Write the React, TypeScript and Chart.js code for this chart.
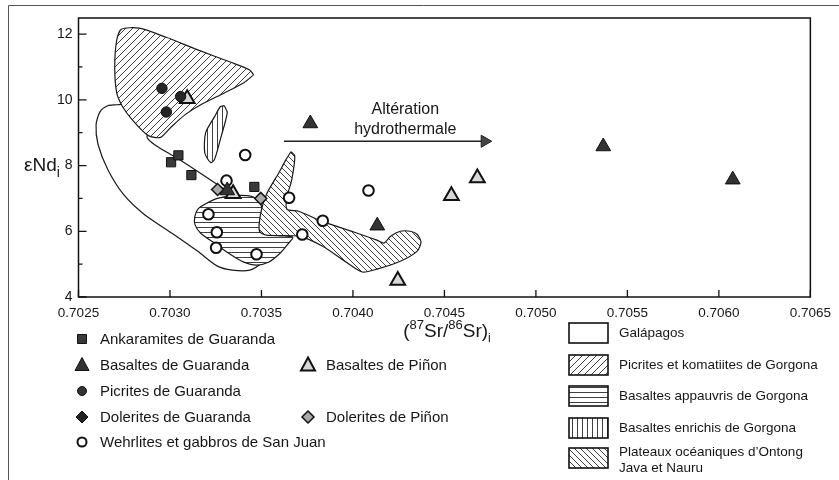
import React, { useEffect, useRef } from 'react';
import { Chart, registerables } from 'chart.js';
Chart.register(...registerables);

const FONT = '"Liberation Sans", Arial, Helvetica, sans-serif';
const INK = '#161616';

// ---- axes ----
const xMin = 0.7025;
const xMax = 0.7065;
const yMin = 4;
const yMax = 12.49;
const xTickValues = [0.7025, 0.703, 0.7035, 0.704, 0.7045, 0.705, 0.7055, 0.706, 0.7065];
const yTickValues = [4, 6, 8, 10, 12];
const yMinorTickValues = [5, 7, 9, 11];

// ---- point series: [87Sr/86Sr, eNd] ----
const ankaramitesGuaranda = [[0.703006, 8.1], [0.703046, 8.31], [0.703117, 7.71], [0.703461, 7.35]];
const basaltesGuaranda = [[0.703313, 7.24], [0.703767, 9.28], [0.704133, 6.17], [0.705368, 8.58], [0.706076, 7.57]];
const picritesGuaranda = [[0.702956, 10.35], [0.703058, 10.1], [0.70298, 9.63]];
const doleritesGuaranda: number[][] = [];
const wehrlitesSanJuan = [
  [0.703411, 8.32], [0.703309, 7.54], [0.70321, 6.52], [0.703256, 5.97], [0.703252, 5.5],
  [0.703473, 5.3], [0.703651, 7.02], [0.703723, 5.9], [0.703835, 6.32], [0.704085, 7.24],
];
const basaltesPinon = [[0.703094, 10.03], [0.703345, 7.14], [0.704245, 4.5], [0.704538, 7.08], [0.70468, 7.62]];
const doleritesPinon = [[0.70326, 7.27], [0.703496, 7.0]];

// ---- field outlines ----
const galapagosField = [
  [0.702709, 9.85], [0.70266, 9.82], [0.702618, 9.64], [0.702596, 9.24], [0.702607, 8.64],
  [0.70266, 7.88], [0.702746, 7.12], [0.702858, 6.52], [0.703019, 5.91], [0.703152, 5.39],
  [0.703259, 4.94], [0.70334, 4.82], [0.703436, 4.82], [0.703516, 5.09], [0.70358, 5.45],
  [0.703527, 6.52], [0.703393, 7.06], [0.703324, 7.18], [0.703259, 7.42], [0.703152, 7.82],
  [0.703045, 8.21], [0.702922, 8.61], [0.702874, 8.88], [0.702912, 9.24], [0.702751, 9.85],
];
const picritesGorgonaField = [
  [0.703457, 10.76], [0.703404, 10.52], [0.703297, 10.21], [0.703168, 9.85], [0.703083, 9.55],
  [0.703008, 9.18], [0.702955, 8.88], [0.702922, 8.85], [0.702874, 8.94], [0.702794, 9.39],
  [0.702741, 9.79], [0.702709, 10.21], [0.702698, 11.0], [0.702709, 11.82], [0.702735, 12.15],
  [0.702832, 12.18], [0.702976, 11.91], [0.703152, 11.52], [0.703329, 11.15], [0.703436, 10.91],
];
const basaltesAppauvrisField = [
  [0.703489, 6.91], [0.703505, 6.67], [0.703495, 6.06], [0.70358, 5.88], [0.703671, 5.82],
  [0.703644, 5.61], [0.703596, 5.3], [0.703538, 5.06], [0.703473, 4.97], [0.703404, 5.06],
  [0.703329, 5.3], [0.703243, 5.64], [0.703168, 5.94], [0.703136, 6.21], [0.703136, 6.45],
  [0.703152, 6.67], [0.70319, 6.82], [0.703259, 7.0], [0.703366, 7.09], [0.703447, 7.06],
];
const basaltesEnrichisField = [
  [0.703297, 9.82], [0.703313, 9.61], [0.703275, 8.79], [0.703243, 8.18], [0.703222, 8.09],
  [0.70319, 8.39], [0.703195, 9.0], [0.703243, 9.48], [0.703275, 9.79],
];
const ontongJavaField = [
  [0.703661, 8.42], [0.703682, 8.3], [0.703666, 7.58], [0.703639, 7.03], [0.703639, 6.67],
  [0.703703, 6.61], [0.703832, 6.3], [0.704008, 5.97], [0.704131, 5.73], [0.704169, 5.64],
  [0.704206, 5.85], [0.704259, 6.0], [0.704313, 6.0], [0.70435, 5.91], [0.704372, 5.67],
  [0.70435, 5.39], [0.704259, 5.09], [0.704131, 4.85], [0.704051, 4.76], [0.703955, 5.09],
  [0.703832, 5.55], [0.703703, 5.85], [0.703527, 5.88], [0.703489, 6.0], [0.703495, 6.52],
  [0.703527, 7.12], [0.703596, 7.79], [0.703634, 8.18],
];

// ---- annotation ----
const arrowLine = [[0.703623, 8.74], [0.70472, 8.74]];
const arrowTextLines = ['Altération', 'hydrothermale'];
const arrowTextAnchor = [0.704286, 9.76];

// ---- legends ----
const pointLegendLeft = ['Ankaramites de Guaranda', 'Basaltes de Guaranda', 'Picrites de Guaranda', 'Dolerites de Guaranda', 'Wehrlites et gabbros de San Juan'];
const pointLegendLeftKinds = ['ank', 'triB', 'dot', 'diaB', 'ring'];
const pointLegendMid = ['Basaltes de Piñon', 'Dolerites de Piñon'];
const pointLegendMidKinds = ['triW', 'diaG'];
const fieldLegend = ['Galápagos', 'Picrites et komatiites de Gorgona', 'Basaltes appauvris de Gorgona', 'Basaltes enrichis de Gorgona', 'Plateaux océaniques d’Ontong|Java et Nauru'];
const fieldLegendKinds = ['none', 'fwd', 'h', 'v', 'back'];

const toXY = (arr: number[][]) => arr.map(([x, y]) => ({ x, y }));
const closed = (arr: number[][]) => toXY([...arr, arr[0]]);

function makePattern(kind: string, size: number): CanvasPattern | string {
  if (kind === 'none') return '#ffffff';
  const c = document.createElement('canvas');
  c.width = size;
  c.height = size;
  const g = c.getContext('2d')!;
  g.fillStyle = '#ffffff';
  g.fillRect(0, 0, size, size);
  g.strokeStyle = '#2a2a2a';
  g.lineWidth = 0.9;
  g.beginPath();
  const s = size;
  if (kind === 'fwd') {
    g.moveTo(-1, s + 1); g.lineTo(s + 1, -1);
    g.moveTo(-1, 1); g.lineTo(1, -1);
    g.moveTo(s - 1, s + 1); g.lineTo(s + 1, s - 1);
  } else if (kind === 'back') {
    g.moveTo(-1, -1); g.lineTo(s + 1, s + 1);
    g.moveTo(s - 1, -1); g.lineTo(s + 1, 1);
    g.moveTo(-1, s - 1); g.lineTo(1, s + 1);
  } else if (kind === 'h') {
    g.moveTo(0, s / 2); g.lineTo(s, s / 2);
  } else if (kind === 'v') {
    g.moveTo(s / 2, 0); g.lineTo(s / 2, s);
  }
  g.stroke();
  return g.createPattern(c, 'repeat')!;
}

function drawMarker(ctx: CanvasRenderingContext2D, kind: string, x: number, y: number) {
  ctx.save();
  ctx.beginPath();
  if (kind === 'ank') {
    ctx.rect(x - 4.5, y - 4.5, 9, 9);
    ctx.fillStyle = '#3a3a3a'; ctx.strokeStyle = '#111'; ctx.lineWidth = 1;
  } else if (kind === 'triB' || kind === 'triW') {
    ctx.moveTo(x, y - 7.5); ctx.lineTo(x + 7, y + 5.5); ctx.lineTo(x - 7, y + 5.5); ctx.closePath();
    ctx.fillStyle = kind === 'triB' ? '#333' : '#d8d8d8';
    ctx.strokeStyle = '#111'; ctx.lineWidth = kind === 'triB' ? 1 : 2;
  } else if (kind === 'dot' || kind === 'ring') {
    ctx.arc(x, y, 4.5, 0, Math.PI * 2);
    ctx.fillStyle = kind === 'dot' ? '#333' : '#fff';
    ctx.strokeStyle = '#111'; ctx.lineWidth = kind === 'dot' ? 1 : 2;
  } else if (kind === 'diaB' || kind === 'diaG') {
    ctx.moveTo(x, y - 6); ctx.lineTo(x + 6, y); ctx.lineTo(x, y + 6); ctx.lineTo(x - 6, y); ctx.closePath();
    ctx.fillStyle = kind === 'diaB' ? '#222' : '#aaa';
    ctx.strokeStyle = '#111'; ctx.lineWidth = kind === 'diaB' ? 1 : 1.5;
  }
  ctx.fill();
  ctx.stroke();
  ctx.restore();
}

function drawRich(ctx: CanvasRenderingContext2D, parts: { t: string; size: number; dy: number }[], cx: number, baseline: number) {
  let total = 0;
  for (const p of parts) {
    ctx.font = `${p.size}px ${FONT}`;
    total += ctx.measureText(p.t).width;
  }
  let x = cx - total / 2;
  ctx.textAlign = 'left';
  ctx.textBaseline = 'alphabetic';
  for (const p of parts) {
    ctx.font = `${p.size}px ${FONT}`;
    ctx.fillText(p.t, x, baseline + p.dy);
    x += ctx.measureText(p.t).width;
  }
}

export default function App() {
  const ref = useRef<HTMLCanvasElement>(null);
  useEffect(() => {
    const canvas = ref.current!;
    const pats: Record<string, CanvasPattern | string> = {
      none: makePattern('none', 6),
      fwd: makePattern('fwd', 7),
      back: makePattern('back', 6),
      h: makePattern('h', 5),
      v: makePattern('v', 5),
    };

    const fieldDataset = (label: string, arr: number[][], bg: CanvasPattern | string, order: number) => ({
      type: 'line' as const,
      label,
      data: closed(arr),
      fill: 'shape',
      backgroundColor: bg,
      borderColor: '#1a1a1a',
      borderWidth: 1.2,
      pointRadius: 0,
      tension: 0.25,
      order,
    });

    const pointDataset = (label: string, arr: number[][], style: string, radius: number, bg: string, bw: number) => ({
      type: 'scatter' as const,
      label,
      data: toXY(arr),
      pointStyle: style,
      pointRadius: radius,
      pointBackgroundColor: bg,
      pointBorderColor: '#111',
      pointBorderWidth: bw,
      order: 0,
    });

    const overlay = {
      id: 'overlay',
      beforeDraw(chart: any) {
        const c = chart.ctx as CanvasRenderingContext2D;
        c.save();
        c.fillStyle = '#fff';
        c.fillRect(0, 0, chart.width, chart.height);
        c.restore();
      },
      afterDraw(chart: any) {
        const c = chart.ctx as CanvasRenderingContext2D;
        const xs = chart.scales.x;
        const ys = chart.scales.y;
        const a = chart.chartArea;
        c.save();
        // outer figure frame
        c.strokeStyle = '#555';
        c.lineWidth = 1;
        c.beginPath();
        c.moveTo(8.5, 480); c.lineTo(8.5, 5.5); c.lineTo(839, 5.5);
        c.stroke();
        // plot frame
        c.strokeStyle = '#111';
        c.lineWidth = 1.5;
        c.strokeRect(a.left, a.top, a.right - a.left, a.bottom - a.top);
        // ticks
        c.lineWidth = 1.3;
        c.beginPath();
        for (const v of yTickValues) {
          const py = ys.getPixelForValue(v);
          c.moveTo(a.left, py); c.lineTo(a.left + 8, py);
        }
        for (const v of yMinorTickValues) {
          const py = ys.getPixelForValue(v);
          c.moveTo(a.left, py); c.lineTo(a.left + 4, py);
        }
        for (const v of xTickValues) {
          const px = xs.getPixelForValue(v);
          c.moveTo(px, a.bottom); c.lineTo(px, a.bottom - 7);
        }
        c.stroke();

        c.fillStyle = INK;
        // y title
        drawRich(c, [
          { t: 'εNd', size: 19, dy: 0 },
          { t: 'i', size: 14, dy: 6 },
        ], 42, 171);
        // x title
        drawRich(c, [
          { t: '(', size: 19, dy: 0 },
          { t: '87', size: 13, dy: -8 },
          { t: 'Sr/', size: 19, dy: 0 },
          { t: '86', size: 13, dy: -8 },
          { t: 'Sr)', size: 19, dy: 0 },
          { t: 'i', size: 12, dy: 5 },
        ], 447, 337);

        // annotation text
        const tx = xs.getPixelForValue(arrowTextAnchor[0]);
        const ty = ys.getPixelForValue(arrowTextAnchor[1]);
        c.font = `16px ${FONT}`;
        c.textAlign = 'center';
        c.textBaseline = 'alphabetic';
        c.fillText(arrowTextLines[0], tx, ty + 6);
        c.fillText(arrowTextLines[1], tx, ty + 26);

        // point legend
        const leftRows = [339, 365, 391, 417, 442];
        c.textAlign = 'left';
        c.textBaseline = 'middle';
        pointLegendLeft.forEach((lab, i) => {
          drawMarker(c, pointLegendLeftKinds[i], 82, leftRows[i]);
          c.fillStyle = INK;
          c.font = `15px ${FONT}`;
          c.fillText(lab, 100, leftRows[i] + 1);
        });
        const midRows = [365, 417];
        pointLegendMid.forEach((lab, i) => {
          drawMarker(c, pointLegendMidKinds[i], 308, midRows[i]);
          c.fillStyle = INK;
          c.font = `15px ${FONT}`;
          c.fillText(lab, 326, midRows[i] + 1);
        });

        // field legend
        const fieldRows = [333, 365, 396, 428, 458];
        fieldLegend.forEach((lab, i) => {
          const cy = fieldRows[i];
          c.fillStyle = pats[fieldLegendKinds[i]] as any;
          c.fillRect(569, cy - 10, 39, 20);
          c.strokeStyle = '#111';
          c.lineWidth = 1.6;
          c.strokeRect(569, cy - 10, 39, 20);
          c.fillStyle = INK;
          c.font = `13.5px ${FONT}`;
          const lines = lab.split('|');
          if (lines.length === 1) {
            c.fillText(lines[0], 619, cy);
          } else {
            c.fillText(lines[0], 619, cy - 6);
            c.fillText(lines[1], 619, cy + 10);
          }
        });
        c.restore();
      },
    };

    const chart = new Chart(canvas, {
      type: 'scatter',
      data: {
        datasets: [
          pointDataset('Ankaramites de Guaranda', ankaramitesGuaranda, 'rect', 6.5, '#3a3a3a', 1),
          pointDataset('Basaltes de Guaranda', basaltesGuaranda, 'triangle', 8.5, '#333', 1),
          pointDataset('Picrites de Guaranda', picritesGuaranda, 'circle', 5.2, '#262626', 1),
          pointDataset('Dolerites de Guaranda', doleritesGuaranda, 'rectRot', 6, '#222', 1),
          pointDataset('Wehrlites et gabbros de San Juan', wehrlitesSanJuan, 'circle', 5.3, '#fff', 2),
          pointDataset('Basaltes de Piñon', basaltesPinon, 'triangle', 8.5, '#d8d8d8', 2),
          pointDataset('Dolerites de Piñon', doleritesPinon, 'rectRot', 6, '#aaa', 1.5),
          {
            type: 'line' as const,
            label: 'Altération hydrothermale',
            data: toXY(arrowLine),
            borderColor: '#222',
            borderWidth: 1.5,
            pointRadius: [0, 7],
            pointStyle: 'triangle',
            pointRotation: 90,
            pointBackgroundColor: '#444',
            pointBorderColor: '#222',
            pointBorderWidth: 1,
            fill: false,
            order: 1,
          },
          fieldDataset('Plateaux océaniques d’Ontong Java et Nauru', ontongJavaField, pats.back, 2),
          fieldDataset('Basaltes enrichis de Gorgona', basaltesEnrichisField, pats.v, 3),
          fieldDataset('Basaltes appauvris de Gorgona', basaltesAppauvrisField, pats.h, 4),
          fieldDataset('Picrites et komatiites de Gorgona', picritesGorgonaField, pats.fwd, 5),
          fieldDataset('Galápagos', galapagosField, pats.none, 6),
        ] as any,
      },
      options: {
        animation: false,
        responsive: false,
        maintainAspectRatio: false,
        layout: { padding: { left: 0, right: 12, top: 18, bottom: 0 } },
        plugins: { legend: { display: false }, tooltip: { enabled: false } },
        scales: {
          x: {
            type: 'linear',
            min: xMin,
            max: xMax,
            afterBuildTicks: (s: any) => { s.ticks = xTickValues.map((v) => ({ value: v })); },
            afterFit: (s: any) => { s.height = 183; },
            ticks: {
              autoSkip: false,
              maxRotation: 0,
              padding: 8,
              color: INK,
              font: { family: FONT, size: 13.5 },
              callback: (v: any) => Number(v).toFixed(4),
            },
            grid: { display: false, drawTicks: false },
            border: { display: false },
          },
          y: {
            type: 'linear',
            min: yMin,
            max: yMax,
            afterBuildTicks: (s: any) => { s.ticks = yTickValues.map((v) => ({ value: v })); },
            afterFit: (s: any) => { s.width = 78.5; },
            ticks: {
              padding: 6,
              color: INK,
              font: { family: FONT, size: 14 },
              callback: (v: any) => String(v),
            },
            grid: { display: false, drawTicks: false },
            border: { display: false },
          },
        },
      } as any,
      plugins: [overlay],
    });
    return () => chart.destroy();
  }, []);

  return (
    <div style={{ position: 'fixed', left: 0, top: 0, width: 839, height: 480, background: '#fff' }}>
      <canvas ref={ref} width={839} height={480} style={{ display: 'block' }} />
    </div>
  );
}
